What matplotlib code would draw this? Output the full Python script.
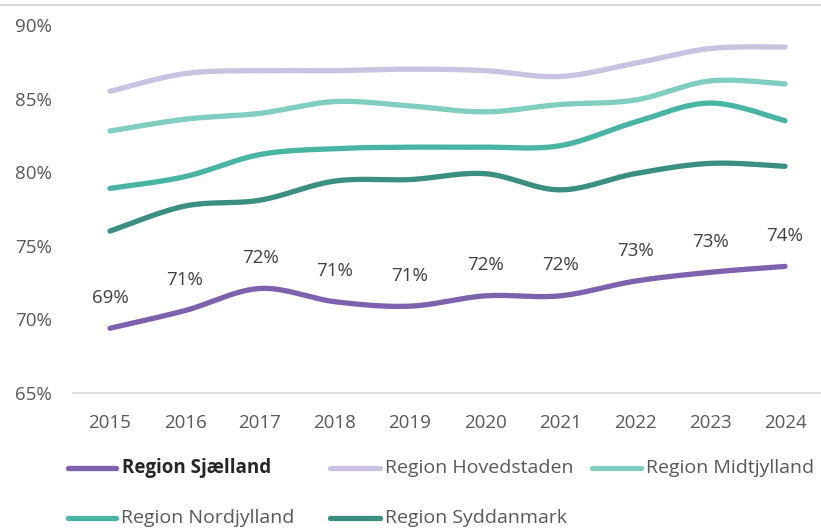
import numpy as np
import matplotlib
matplotlib.use("Agg")
import matplotlib.pyplot as plt
from matplotlib.lines import Line2D

plt.rcParams['font.family'] = ['Open Sans', 'DejaVu Sans']

years = [2015, 2016, 2017, 2018, 2019, 2020, 2021, 2022, 2023, 2024]

sjaelland = [69.4, 70.6, 72.1, 71.2, 70.9, 71.6, 71.6, 72.6, 73.2, 73.6]
hovedstaden = [85.5, 86.7, 86.9, 86.9, 87.0, 86.9, 86.5, 87.4, 88.4, 88.5]
midtjylland = [82.8, 83.6, 84.0, 84.8, 84.5, 84.1, 84.6, 84.9, 86.2, 86.0]
nordjylland = [78.9, 79.7, 81.2, 81.6, 81.7, 81.7, 81.8, 83.4, 84.7, 83.5]
syddanmark = [76.0, 77.7, 78.1, 79.4, 79.5, 79.9, 78.8, 79.9, 80.6, 80.4]

region_names = ["Region Sjælland", "Region Hovedstaden", "Region Midtjylland",
                "Region Nordjylland", "Region Syddanmark"]
region_values = [sjaelland, hovedstaden, midtjylland, nordjylland, syddanmark]
region_colors = ["#7E62AE", "#CBC1E0", "#80CEC0", "#48B4A3", "#3A8F81"]

y_ticks = [65, 70, 75, 80, 85, 90]


def smooth(xs, ys, n=30):
    """Bezier smoothing through every point (Catmull-Rom style)."""
    xs = np.asarray(xs, float)
    ys = np.asarray(ys, float)
    px = np.concatenate([[xs[0]], xs, [xs[-1]]])
    py = np.concatenate([[ys[0]], ys, [ys[-1]]])
    outx, outy = [], []
    t = np.linspace(0, 1, n)
    for i in range(1, len(px) - 2):
        p0 = np.array([px[i], py[i]])
        p3 = np.array([px[i + 1], py[i + 1]])
        c1 = p0 + (p3 - np.array([px[i - 1], py[i - 1]])) / 6
        c2 = p3 - (np.array([px[i + 2], py[i + 2]]) - p0) / 6
        b = ((1 - t) ** 3)[:, None] * p0 + (3 * (1 - t) ** 2 * t)[:, None] * c1 \
            + (3 * (1 - t) * t ** 2)[:, None] * c2 + (t ** 3)[:, None] * p3
        outx.extend(b[:, 0])
        outy.extend(b[:, 1])
    return np.array(outx), np.array(outy)


W, H = 821, 529
fig = plt.figure(figsize=(W / 100, H / 100), dpi=100)
ax = fig.add_axes([72.5 / W, 1 - 393 / H, (822.5 - 72.5) / W, (393 - 25) / H])

xpos = np.arange(len(years))
# draw back-to-front so the Sjælland line ends up on top
for name, vals, col in list(zip(region_names, region_values, region_colors))[::-1]:
    sx, sy = smooth(xpos, vals)
    ax.plot(sx, sy, color=col, lw=3.8, solid_capstyle='round', zorder=3)

for x, v in zip(xpos, sjaelland):
    ax.annotate(f"{v:.0f}%", (x, v), xytext=(0, 22), textcoords='offset points',
                ha='center', va='center', fontsize=13.5, color='#404040')

ax.set_xlim(-0.5, len(years) - 0.5)
ax.set_ylim(65, 90)
ax.set_xticks(xpos)
ax.set_xticklabels([str(y) for y in years])
ax.set_yticks(y_ticks)
ax.set_yticklabels([f"{t}%" for t in y_ticks])
ax.tick_params(axis='both', length=0, labelsize=13.5, labelcolor='#595959')
ax.tick_params(axis='x', pad=15)
ax.tick_params(axis='y', pad=15)
for s in ['top', 'right', 'left']:
    ax.spines[s].set_visible(False)
ax.spines['bottom'].set_color('#D9D9D9')
ax.spines['bottom'].set_linewidth(1.2)

# top border line
fig.add_artist(Line2D([0, 1], [1 - 5 / H, 1 - 5 / H], color='#D0D0D0', lw=1.2))

# legend drawn in figure pixels: (line start, line end, text start, row y)
legend_slots = [(68, 116, 122, 468), (330, 380, 385, 468), (592, 641, 646, 468),
                (68, 116, 121, 518), (330, 380, 385, 518)]
for i, ((x0, x1, xt, yy), name, col) in enumerate(zip(legend_slots, region_names, region_colors)):
    fig.add_artist(Line2D([x0 / W, x1 / W], [1 - yy / H, 1 - yy / H], color=col,
                          lw=3.8, solid_capstyle='round'))
    fig.text(xt / W, 1 - yy / H, name, ha='left', va='center',
             fontsize=13.5 if i == 0 else 14,
             color='#262626' if i == 0 else '#595959',
             fontweight='bold' if i == 0 else 'normal')

fig.savefig("out.png", dpi=100)
